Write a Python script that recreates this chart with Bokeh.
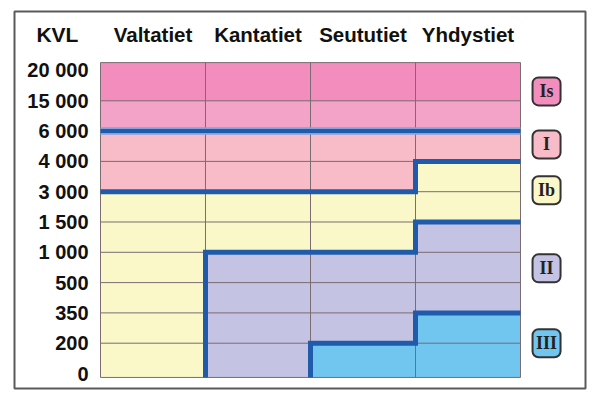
from bokeh.plotting import figure
from bokeh.embed import file_html
from bokeh.resources import INLINE
from bokeh.core.properties import value
from bokeh.models import ColumnDataSource

# ---------------- data ----------------
columns = ["Valtatiet", "Kantatiet", "Seututiet", "Yhdystiet"]
levels = ["0", "200", "350", "500", "1 000", "1 500", "3 000", "4 000", "6 000", "15 000", "20 000"]
classes = ["Is", "I", "Ib", "II", "III"]
class_colors = ["#F38DBE", "#F7BCC7", "#FAF8C9", "#C4C3E3", "#70C6EE"]
# level index of the boundary between classes, per column
bound_Is_I = [8, 8, 8, 8]
bound_I_Ib = [6, 6, 6, 7]
bound_Ib_II = [0, 4, 4, 5]
bound_II_III = [0, 0, 1, 2]

# ---------------- layout / style ----------------
BOT = -0.13       # grid bottom edge (below level 0)
TOP = 10.26       # grid top edge (above level 20 000)
LEGEND_X = 4.248
LEGEND_Y = [9.31, 7.56, 6.05, 3.47, 1.0]
HEAD_Y = 11.19
GRID_COL = "#7A6C70"
BLUE = "#1F5BAA"
SANS = value("Liberation Sans")
SERIF = value("Liberation Serif")

def ypos(i):
    if i <= 0:
        return BOT
    if i >= len(levels) - 1:
        return TOP
    return i

p = figure(width=594, height=391, output_backend="svg", toolbar_location=None,
           x_range=(-0.819, 4.619), y_range=(-0.495, 11.947),
           min_border_left=14, min_border_right=9, min_border_top=11, min_border_bottom=3)
p.xaxis.visible = False
p.yaxis.visible = False
p.xgrid.visible = False
p.ygrid.visible = False
p.outline_line_color = "#5A5A5A"
p.outline_line_width = 2
p.background_fill_color = "white"
p.border_fill_color = "white"

# class regions
left, right, bottom, top, color = [], [], [], [], []
ncol = len(columns)
for j in range(ncol):
    b = [len(levels) - 1, bound_Is_I[j], bound_I_Ib[j], bound_Ib_II[j], bound_II_III[j], 0]
    for k in range(len(classes)):
        if b[k] > b[k + 1]:
            left.append(j); right.append(j + 1)
            bottom.append(ypos(b[k + 1])); top.append(ypos(b[k]))
            color.append(class_colors[k])
p.quad(left="left", right="right", bottom="bottom", top="top", color="color",
       source=ColumnDataSource(dict(left=left, right=right, bottom=bottom, top=top, color=color)),
       line_color=None)
# lighter lower band of Is
p.quad(left=[0], right=[ncol], bottom=[8], top=[9], color="#F3A2C8", line_color=None)

# grid lines
p.multi_line(xs=[[0, ncol] for i in range(1, len(levels) - 1)],
             ys=[[i, i] for i in range(1, len(levels) - 1)], line_color=GRID_COL, line_width=1)
p.multi_line(xs=[[j, j] for j in range(1, ncol)], ys=[[BOT, TOP] for j in range(1, ncol)],
             line_color=GRID_COL, line_width=1)
p.quad(left=[0], right=[ncol], bottom=[BOT], top=[TOP], fill_color=None,
       line_color=GRID_COL, line_width=1)

# boundary step lines
def step_path(b):
    xs, ys = [], []
    first = next((j for j in range(ncol) if b[j] > 0), None)
    if first is None:
        return xs, ys
    if first > 0:
        xs.append(first); ys.append(ypos(0))
    for j in range(first, ncol):
        xs += [j, j + 1]; ys += [ypos(b[j]), ypos(b[j])]
    return xs, ys

for bnd in [bound_I_Ib, bound_Ib_II, bound_II_III]:
    xs, ys = step_path(bnd)
    p.line(xs, ys, line_color=BLUE, line_width=5, line_join="miter")

xs, ys = step_path(bound_Is_I)
p.line(xs, ys, line_color="#84A2DA", line_width=7.5, line_join="miter")
p.line(xs, ys, line_color=BLUE, line_width=4, line_join="miter")

# y labels
p.text(x=[-0.114] * len(levels), y=list(range(len(levels))), text=levels,
       text_font=SANS, text_font_style="bold", text_font_size="20px",
       text_align="right", text_baseline="middle", text_color="#111111")
# column headers
p.text(x=[j + 0.5 for j in range(ncol)], y=[HEAD_Y] * ncol, text=columns,
       text_font=SANS, text_font_style="bold", text_font_size="20.5px",
       text_align="center", text_baseline="middle", text_color="#111111")
p.text(x=[-0.41], y=[HEAD_Y], text=["KVL"],
       text_font=SANS, text_font_style="bold", text_font_size="21px",
       text_align="center", text_baseline="middle", text_color="#111111")

# legend boxes
p.rect(x=[LEGEND_X] * len(classes), y=LEGEND_Y, width=28, height=28,
       width_units="screen", height_units="screen", fill_color=class_colors,
       line_color="#333333", line_width=2, border_radius=6)
p.text(x=[LEGEND_X] * len(classes), y=LEGEND_Y, text=classes,
       text_font=SERIF, text_font_style="bold", text_font_size="18px",
       text_align="center", text_baseline="middle", text_color="#222222")

open("out.html", "w").write(file_html(p, INLINE))
